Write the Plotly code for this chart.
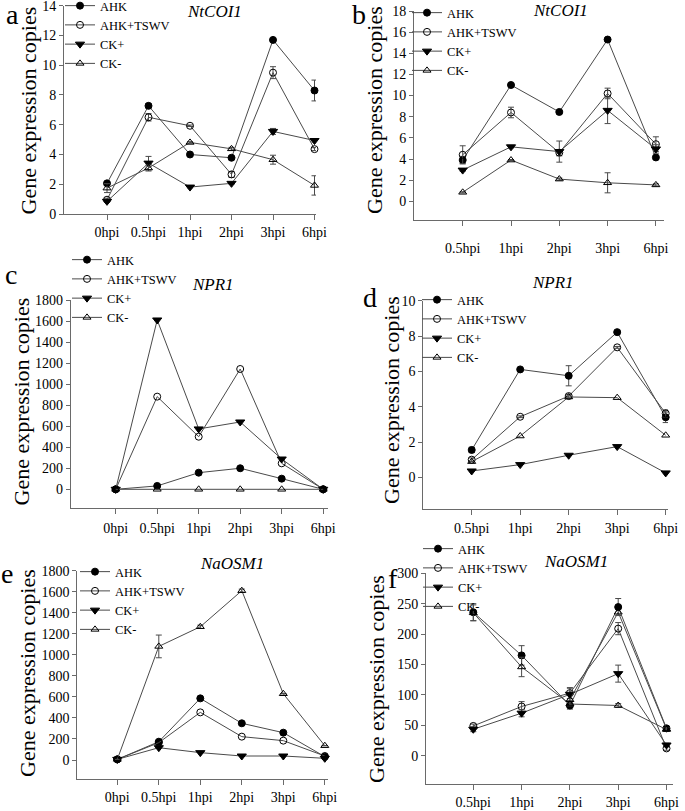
import plotly.graph_objects as go

# ---------------- data ----------------
cats6 = ["0hpi", "0.5hpi", "1hpi", "2hpi", "3hpi", "6hpi"]
cats5 = ["0.5hpi", "1hpi", "2hpi", "3hpi", "6hpi"]
series_names = ["AHK", "AHK+TSWV", "CK+", "CK-"]

# a: NtCOI1 (0-6 hpi)
a_ahk = [2.06, 7.27, 4.0, 3.78, 11.7, 8.3]
a_ahk_e = [0.1, 0.15, 0.05, 0.05, 0.1, 0.7]
a_tswv = [0.96, 6.5, 5.93, 2.66, 9.5, 4.36]
a_tswv_e = [0.1, 0.25, 0.05, 0.2, 0.4, 0.1]
a_ckp = [0.85, 3.42, 1.81, 2.06, 5.55, 4.94]
a_ckp_e = [0.05, 0.45, 0.05, 0.05, 0.2, 0.1]
a_ckm = [1.74, 3.09, 4.81, 4.38, 3.65, 1.92]
a_ckm_e = [0.3, 0.2, 0.05, 0.1, 0.3, 0.65]

# b: NtCOI1 (0.5-6 hpi)
b_ahk = [3.9, 11.0, 8.45, 15.3, 4.15]
b_ahk_e = [0.35, 0.1, 0.1, 0.05, 0.2]
b_tswv = [4.4, 8.4, 4.6, 10.2, 5.4]
b_tswv_e = [0.85, 0.5, 0.3, 0.5, 0.7]
b_ckp = [2.95, 5.15, 4.7, 8.6, 4.95]
b_ckp_e = [0.1, 0.1, 1.0, 1.25, 0.4]
b_ckm = [0.85, 3.9, 2.1, 1.75, 1.55]
b_ckm_e = [0.05, 0.05, 0.1, 0.95, 0.1]

# c: NPR1 (0-6 hpi)
c_ahk = [0, 32, 158, 200, 101, 0]
c_tswv = [0, 881, 500, 1144, 247, 0]
c_ckp = [0, 1610, 574, 640, 288, 0]
c_ckm = [0, 0, 0, 0, 0, 0]

# d: NPR1 (0.5-6 hpi)
d_ahk = [1.55, 6.11, 5.75, 8.22, 3.4]
d_ahk_e = [0.15, 0.05, 0.57, 0.1, 0.3]
d_tswv = [1.0, 3.43, 4.6, 7.36, 3.62]
d_tswv_e = [0.1, 0.05, 0.1, 0.05, 0.2]
d_ckp = [0.36, 0.72, 1.25, 1.74, 0.25]
d_ckm = [0.89, 2.34, 4.55, 4.51, 2.38]

# e: NaOSM1 (0-6 hpi)
e_ahk = [6, 174, 586, 349, 260, 32]
e_tswv = [6, 165, 453, 222, 184, 38]
e_ckp = [6, 117, 70, 38, 38, 16]
e_ckm = [6, 1080, 1267, 1610, 630, 136]
e_ckm_e = [0, 108, 15, 15, 0, 0]

# f: NaOSM1 (0.5-6 hpi)
f_ahk = [236, 165, 82.6, 244.5, 45]
f_ahk_e = [14, 16, 6, 14, 3]
f_tswv = [49, 81, 103, 209, 12]
f_tswv_e = [3, 8, 9, 10, 3]
f_ckp = [43.5, 70, 101, 135, 17.6]
f_ckp_e = [4, 6, 10, 14, 3]
f_ckm = [235, 146, 85, 82.6, 43]
f_ckm_e = [13, 16, 3, 3, 3]
f_extra = [None, None, 92, 236, 44]

# ---------------- layout helpers ----------------
W, H = 685, 811
FONT = "Liberation Serif"
LINE = "#4a4a4a"
AX = "#6a6a6a"


def dom_x(l, r):
    return [l / W, r / W]


def dom_y(t, b):
    return [1 - b / H, 1 - t / H]


styles = {
    "AHK": dict(symbol="circle", size=7, color="black", line=dict(color="black", width=1)),
    "AHK+TSWV": dict(symbol="circle-open", size=7, color="black", line=dict(width=1)),
    "CK+": dict(symbol="triangle-down", size=8, color="black", line=dict(color="black", width=1)),
    "CK-": dict(symbol="triangle-up-open", size=7, color="black", line=dict(width=1)),
}

fig = go.Figure()

panels = [
    dict(k=1, cats=cats6, data=[a_ahk, a_tswv, a_ckp, a_ckm], err=[a_ahk_e, a_tswv_e, a_ckp_e, a_ckm_e],
         xpx=(64, 316), ypx=(5.7, 214), yr=[0, 14], dt=2, c0=107, sp=41.5,
         leg=(100, 6), title="NtCOI1", tpos=(214, 11), let="a", lpos=(12, 14), ytp=(27.5, 111), so=0),
    dict(k=2, cats=cats5, data=[b_ahk, b_tswv, b_ckp, b_ckm], err=[b_ahk_e, b_tswv_e, b_ckp_e, b_ckm_e],
         xpx=(414, 664), ypx=(11, 220), yr=[-1.77, 18], dt=2, c0=462.7, sp=48.3,
         leg=(447, 13), title="NtCOI1", tpos=(560, 10), let="b", lpos=(359, 15), ytp=(374, 110), so=10),
    dict(k=3, cats=cats6, data=[c_ahk, c_tswv, c_ckp, c_ckm], err=[None, None, None, None],
         xpx=(70.7, 328), ypx=(300, 507.7), yr=[-175, 1800], dt=200, c0=115.7, sp=41.5,
         leg=(107, 260), title="NPR1", tpos=(213, 284), let="c", lpos=(11, 274), ytp=(20.5, 402), so=2),
    dict(k=4, cats=cats5, data=[d_ahk, d_tswv, d_ckp, d_ckm], err=[d_ahk_e, d_tswv_e, None, None],
         xpx=(423.3, 668), ypx=(300.7, 509.3), yr=[-1.81, 10], dt=2, c0=471.7, sp=48.5,
         leg=(457, 300), title="NPR1", tpos=(553, 283), let="d", lpos=(370, 298), ytp=(392, 400), so=1),
    dict(k=5, cats=cats6, data=[e_ahk, e_tswv, e_ckp, e_ckm], err=[None, None, None, e_ckm_e],
         xpx=(77.3, 328), ypx=(570.7, 779.3), yr=[-183.5, 1800], dt=200, c0=117.3, sp=41.5,
         leg=(115, 572), title="NaOSM1", tpos=(232, 563), let="e", lpos=(7, 573), ytp=(27, 673), so=0),
    dict(k=6, cats=cats5, data=[f_ahk, f_tswv, f_ckp, f_ckm], err=[f_ahk_e, f_tswv_e, f_ckp_e, f_ckm_e],
         xpx=(426, 673), ypx=(573.3, 784.3), yr=[-47, 300], dt=50, c0=473.3, sp=48.3,
         leg=(458, 549), title="NaOSM1", tpos=(576, 561), let="f", lpos=(393, 578), ytp=(376, 679), so=0),
]

annotations = []
for p in panels:
    k = p["k"]
    xa = "x" if k == 1 else f"x{k}"
    ya = "y" if k == 1 else f"y{k}"
    lg = "legend" if k == 1 else f"legend{k}"
    for name, ys, es in zip(series_names, p["data"], p["err"]):
        tr = dict(x=p["cats"], y=ys, mode="lines+markers", name=name,
                  line=dict(color=LINE, width=1), marker=styles[name],
                  xaxis=xa, yaxis=ya, legend=lg, cliponaxis=False)
        if es is not None:
            tr["error_y"] = dict(type="data", array=es, visible=True, color=LINE, thickness=1, width=3)
        fig.add_trace(go.Scatter(**tr))
    if k == 6:
        fig.add_trace(go.Scatter(x=p["cats"], y=f_extra, mode="lines+markers", name="CK-",
                                 line=dict(color=LINE, width=1), marker=styles["CK-"],
                                 xaxis=xa, yaxis=ya, showlegend=False, cliponaxis=False))
    l, r = p["xpx"]
    t, b = p["ypx"]
    xr = [(l - p["c0"]) / p["sp"], (r - p["c0"]) / p["sp"]]
    xkey = "xaxis" if k == 1 else f"xaxis{k}"
    ykey = "yaxis" if k == 1 else f"yaxis{k}"
    fig.layout[xkey] = dict(domain=dom_x(l, r), anchor=ya, type="category", range=xr,
                            showline=True, linecolor=AX, linewidth=1, ticks="outside", ticklen=5,
                            tickcolor=AX, showgrid=False, zeroline=False,
                            tickfont=dict(family=FONT, size=14, color="black"),
                            ticklabelstandoff=p["so"], ticklabeloverflow="allow")
    fig.layout[ykey] = dict(domain=dom_y(t, b), anchor=xa, range=p["yr"], tick0=0, dtick=p["dt"],
                            showline=True, linecolor=AX, linewidth=1, ticks="outside", ticklen=4,
                            tickcolor=AX, showgrid=False, zeroline=False,
                            tickfont=dict(family=FONT, size=14, color="black"),
                            ticklabeloverflow="allow")
    fig.layout[lg] = dict(x=(p["leg"][0] - 40) / W, y=1 - (p["leg"][1] - 15) / H,
                          xanchor="left", yanchor="top", bgcolor="rgba(0,0,0,0)",
                          font=dict(family=FONT, size=12.5, color="black"),
                          tracegroupgap=0, itemwidth=30)
    annotations.append(dict(text=f"<i>{p['title']}</i>", x=p["tpos"][0] / W, y=1 - p["tpos"][1] / H,
                            xref="paper", yref="paper", showarrow=False,
                            xanchor="center", yanchor="middle",
                            font=dict(family=FONT, size=17, color="black")))
    annotations.append(dict(text=p["let"], x=p["lpos"][0] / W, y=1 - p["lpos"][1] / H,
                            xref="paper", yref="paper", showarrow=False,
                            xanchor="center", yanchor="middle",
                            font=dict(family=FONT, size=28, color="black")))
    annotations.append(dict(text="Gene expression copies", x=p["ytp"][0] / W, y=1 - p["ytp"][1] / H,
                            xref="paper", yref="paper", showarrow=False, textangle=-90,
                            xanchor="center", yanchor="middle",
                            font=dict(family=FONT, size=22, color="black")))

fig.update_layout(width=W, height=H, margin=dict(l=0, r=0, t=0, b=0, autoexpand=False),
                  paper_bgcolor="white", plot_bgcolor="white",
                  annotations=annotations, showlegend=True)

fig.write_html("out.html", config={"displayModeBar": False},
               post_script="document.body.style.margin='0px';")
